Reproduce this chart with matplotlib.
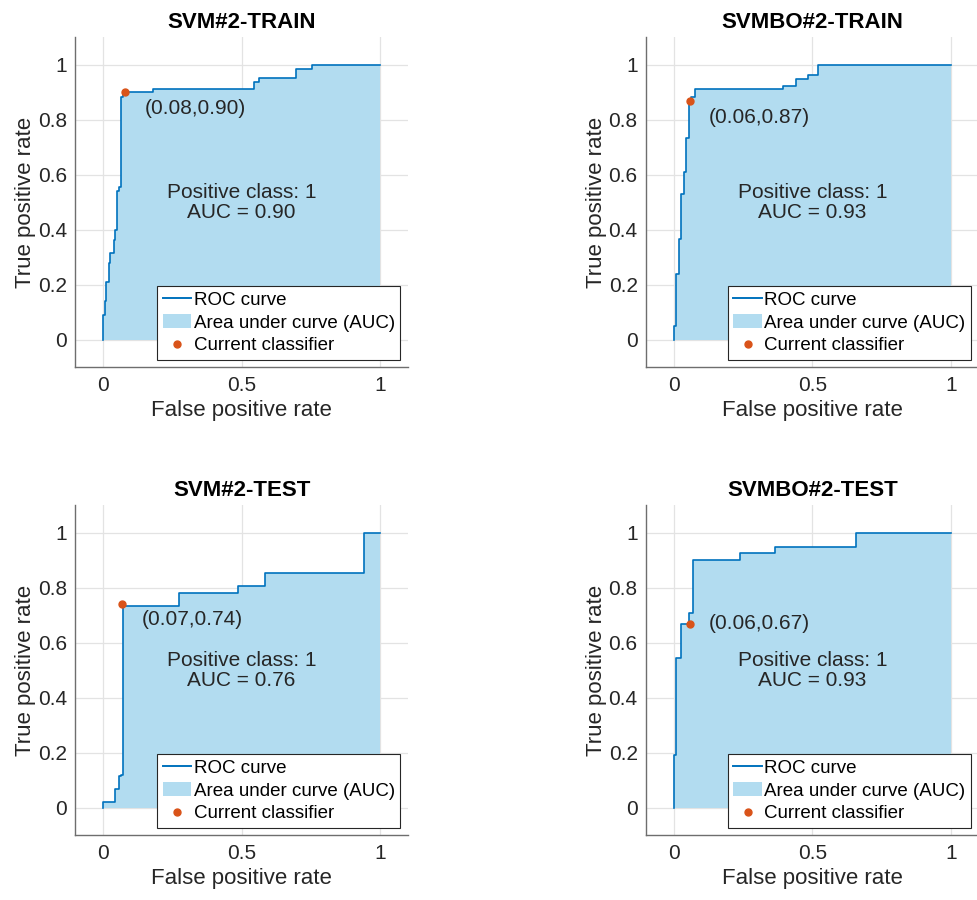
import matplotlib
matplotlib.use("Agg")
import matplotlib.pyplot as plt
from matplotlib.lines import Line2D
from matplotlib.patches import Patch
import numpy as np

plt.rcParams['font.family'] = ['Liberation Sans', 'DejaVu Sans']

####################
# ROC points (fpr, tpr), tops of each vertical run
titles = ["SVM#2-TRAIN", "SVMBO#2-TRAIN", "SVM#2-TEST", "SVMBO#2-TEST"]

fpr_1 = [0, 0, 0.006, 0.012, 0.02, 0.026, 0.038, 0.042, 0.05, 0.056, 0.066, 0.072, 0.18, 0.543, 0.564, 0.697, 0.752, 1.0]
tpr_1 = [0, 0.09, 0.14, 0.21, 0.28, 0.316, 0.364, 0.40, 0.54, 0.557, 0.885, 0.90, 0.912, 0.937, 0.952, 0.985, 1.0, 1.0]

fpr_2 = [0, 0, 0.007, 0.018, 0.028, 0.036, 0.046, 0.054, 0.062, 0.076, 0.395, 0.44, 0.485, 0.521, 1.0]
tpr_2 = [0, 0.051, 0.24, 0.366, 0.53, 0.61, 0.733, 0.873, 0.885, 0.912, 0.925, 0.949, 0.964, 1.0, 1.0]

fpr_3 = [0, 0, 0.042, 0.059, 0.066, 0.071, 0.273, 0.486, 0.584, 0.942, 1.0]
tpr_3 = [0, 0.023, 0.068, 0.116, 0.12, 0.735, 0.783, 0.807, 0.853, 1.0, 1.0]

fpr_4 = [0, 0, 0.007, 0.028, 0.054, 0.07, 0.24, 0.367, 0.656, 1.0]
tpr_4 = [0, 0.193, 0.545, 0.668, 0.71, 0.90, 0.926, 0.95, 1.0, 1.0]

# current classifier operating points and AUC
cur_fpr = [0.08, 0.06, 0.07, 0.06]
cur_tpr = [0.90, 0.87, 0.74, 0.67]
auc = [0.90, 0.93, 0.76, 0.93]
####################

fprs = [fpr_1, fpr_2, fpr_3, fpr_4]
tprs = [tpr_1, tpr_2, tpr_3, tpr_4]

# where the (x,y) label sits relative to the dot
label_off = [(0.07, -0.06), (0.065, -0.06), (0.07, -0.056), (0.068, 0.0)]

line_col = '#0072BD'
fill_col = '#B2DCF0'
dot_col = '#D95319'
axis_col = '#6e6e6e'

fig = plt.figure(figsize=(9.77, 9.0), dpi=100)

lefts = [0.0771, 0.6612, 0.0771, 0.6612]
bottoms = [0.5917, 0.5917, 0.0717, 0.0717]

for i in range(4):
    ax = fig.add_axes([lefts[i], bottoms[i], 0.3405, 0.3667])
    x = np.array(fprs[i])
    y = np.array(tprs[i])

    ax.fill_between(x, 0, y, step='post', color=fill_col, lw=0, zorder=1)
    ax.plot(x, y, drawstyle='steps-post', color=line_col, lw=1.2, zorder=3)
    ax.plot(cur_fpr[i], cur_tpr[i], 'o', color=dot_col, ms=5, zorder=4)

    dx, dy = label_off[i]
    ax.text(cur_fpr[i] + dx, cur_tpr[i] + dy,
            "(%.2f,%.2f)" % (cur_fpr[i], cur_tpr[i]),
            fontsize=15, ha='left', va='center', color='#262626', zorder=5)
    ax.text(0.5, 0.5, "Positive class: 1\nAUC = %.2f" % auc[i],
            fontsize=15, ha='center', va='center', linespacing=1.1,
            color='#262626', zorder=5)

    ax.set_xlim(-0.1, 1.1)
    ax.set_ylim(-0.1, 1.1)
    ax.set_xticks([0, 0.5, 1])
    ax.set_xticklabels(['0', '0.5', '1'])
    ax.set_yticks([0, 0.2, 0.4, 0.6, 0.8, 1])
    ax.set_yticklabels(['0', '0.2', '0.4', '0.6', '0.8', '1'])
    ax.tick_params(length=0, labelsize=15, labelcolor='#262626', pad=6)
    ax.grid(True, color='#e3e3e3', lw=0.9, zorder=0)
    ax.set_axisbelow(True)

    for s in ['top', 'right']:
        ax.spines[s].set_visible(False)
    for s in ['left', 'bottom']:
        ax.spines[s].set_color(axis_col)
        ax.spines[s].set_linewidth(1.0)

    ax.set_title(titles[i], fontsize=16, fontweight='bold', pad=7)
    ax.set_xlabel("False positive rate", fontsize=16, color='#262626', labelpad=4)
    ax.set_ylabel("True positive rate", fontsize=16, color='#262626', labelpad=1)

    handles = [Line2D([0], [0], color=line_col, lw=1.4),
               Patch(facecolor=fill_col, edgecolor='none'),
               Line2D([0], [0], marker='o', color=dot_col, lw=0, ms=5)]
    leg = ax.legend(handles, ["ROC curve", "Area under curve (AUC)", "Current classifier"],
                    loc='lower right', fontsize=13.5, frameon=True, fancybox=False,
                    handlelength=1.5, handletextpad=0.15, borderpad=0.3,
                    labelspacing=0.3, borderaxespad=0.4)
    leg.get_frame().set_edgecolor('#262626')
    leg.get_frame().set_linewidth(0.8)
    leg.get_frame().set_alpha(1)
    leg.set_zorder(10)

plt.savefig('out.png', dpi=100)
